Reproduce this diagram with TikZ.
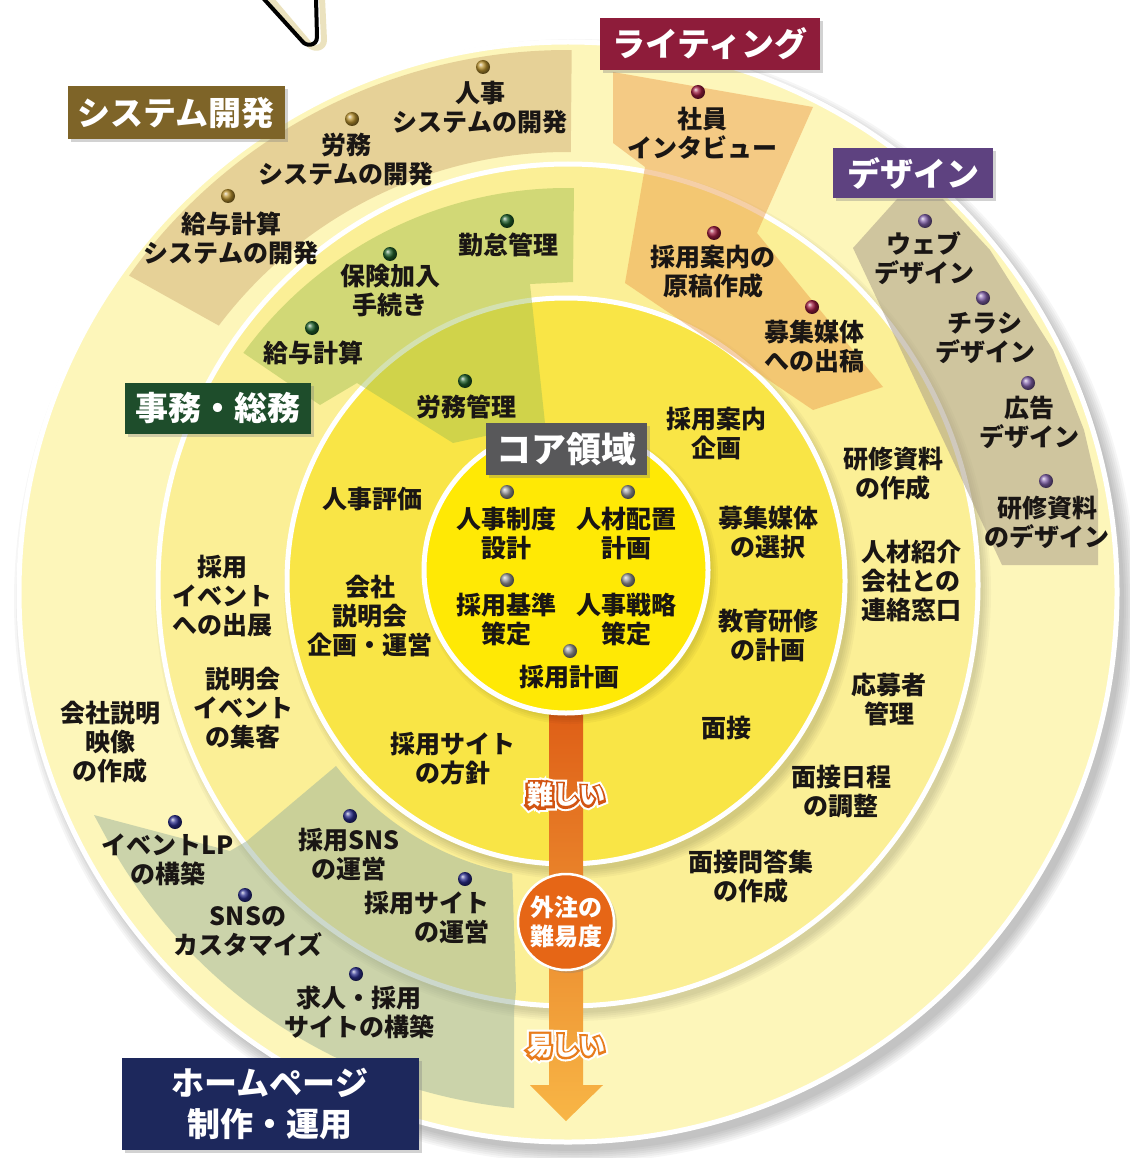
\documentclass[tikz,border=0pt]{standalone}
\usepackage{fontspec}
\newfontfamily\jp{Noto Sans CJK JP}
\newfontfamily\jpfatA{Noto Sans CJK JP}[FakeBold=22]
\newfontfamily\jpfatW{Noto Sans CJK JP}[FakeBold=38]
\usetikzlibrary{calc,shadows}
\definecolor{ink}{RGB}{26,22,20}
\definecolor{ringD}{RGB}{253,246,186}
\definecolor{ringC}{RGB}{251,239,150}
\definecolor{ringB}{RGB}{249,229,70}
\definecolor{coreY}{RGB}{255,233,5}
\definecolor{bandSys}{RGB}{212,180,124}
\definecolor{bandGr}{RGB}{160,190,80}
\definecolor{bandWr}{RGB}{236,160,80}
\definecolor{bandDs}{RGB}{170,158,135}
\definecolor{bandHp}{RGB}{155,178,155}
\definecolor{catSys}{RGB}{126,100,40}
\definecolor{catWr}{RGB}{142,28,58}
\definecolor{catDs}{RGB}{94,66,128}
\definecolor{catJm}{RGB}{30,77,43}
\definecolor{catCore}{RGB}{88,88,90}
\definecolor{catHp}{RGB}{29,40,92}
\definecolor{bGold}{RGB}{184,145,46}
\definecolor{bGreen}{RGB}{31,95,42}
\definecolor{bRed}{RGB}{158,27,63}
\definecolor{bPurple}{RGB}{128,96,168}
\definecolor{bNavy}{RGB}{43,46,140}
\definecolor{bGray}{RGB}{150,150,150}
\definecolor{arrTop}{RGB}{221,90,20}
\definecolor{arrMid}{RGB}{238,128,32}
\definecolor{arrBot}{RGB}{248,182,70}
\definecolor{circO}{RGB}{230,102,22}
\definecolor{badgeA}{RGB}{210,84,18}
\definecolor{badgeB}{RGB}{232,124,28}
\newcommand\myoutl[4]{%
  \node[badge,text=white,font=\jpfatW\fontsize{26}{30}\selectfont] at (#1) {#4};
  \node[badge,text=#2,font=\jpfatA\fontsize{26}{30}\selectfont] at (#1) {#4};
  \node[badge,text=white] (#3) at (#1) {#4};}
\begin{document}
\begin{tikzpicture}[x=1pt,y=-1pt,
  txt/.style={font=\jp\bfseries\fontsize{25}{29}\selectfont, text=ink, align=center, inner sep=0pt},
  cat/.style={font=\jp\bfseries\fontsize{33}{41}\selectfont, text=white, align=center, inner sep=0pt, fill=#1, drop shadow={shadow xshift=3pt, shadow yshift=-3pt, opacity=0.35}},
  bead/.style={circle, inner sep=0pt, minimum size=14pt, shading=ball, ball color=#1},
  ring/.style={draw=white, line width=5pt},
  badge/.style={font=\jp\bfseries\fontsize{26}{30}\selectfont, inner sep=0pt},
]
\useasboundingbox[fill=white] (0,0) rectangle (1129,1158);
\coordinate (O) at (567,588);

% pointer at top
\draw[color={rgb,255:red,235;green,226;blue,190}, line width=6pt, line cap=round, line join=round]
  (270,-2) -- (309,44) .. controls (313,50) and (324,49) .. (324,40) -- (322,-2);
\draw[black, line width=4pt, line cap=round, line join=round]
  (263,-2) -- (302,41) .. controls (306,47) and (317,46) .. (317,37) -- (316,-2);

% rings
\foreach \k [evaluate=\k as \ra using 563-2*\k, evaluate=\k as \rb using 564-2*\k] in {1,...,7}
  \fill[black,opacity=0.035] (575,601) ellipse [x radius=\ra, y radius=\rb];
\fill[ringD, ring] (568,592) ellipse [x radius=549, y radius=550];
\foreach \k [evaluate=\k as \ra using 420-2*\k, evaluate=\k as \rb using 431-2*\k] in {1,...,5}
  \fill[black,opacity=0.03] (573,592) ellipse [x radius=\ra, y radius=\rb];
\fill[ringC, ring] (568,585) ellipse [x radius=410, y radius=421];
\foreach \k [evaluate=\k as \ra using 289-2*\k, evaluate=\k as \rb using 293-2*\k] in {1,...,5}
  \fill[black,opacity=0.03] (571,588) ellipse [x radius=\ra, y radius=\rb];
\fill[ringB, ring] (566,581) ellipse [x radius=279, y radius=283];

% category bands
\fill[bandSys, opacity=0.55] ($(O)+(217:436)$) arc[start angle=217, end angle=270.5, radius=436]
  -- ($(O)+(270.5:538)$) arc[start angle=270.5, end angle=215.5, radius=538] -- cycle;
\fill[bandGr, opacity=0.45] ($(O)+(216:400)$) arc[start angle=216, end angle=271, radius=400]
  -- (573,282) -- (530,284) -- (545,423) -- (453,443) -- (357,383) -- (320,405) -- cycle;
\fill[bandWr, opacity=0.5] (613,72) -- (813,107) -- (757,233) -- (883,387) -- (813,410)
  -- (625,283) -- (645,167) -- (613,143) -- cycle;
\fill[bandDs, opacity=0.55] (897,199) -- (943,199) -- (990,250) -- (1053,350) -- (1084,430)
  -- (1098,490) -- (1098,565) -- (1002,565) -- (853,248) -- cycle;
\fill[bandHp, opacity=0.5] (94,815) -- (230,851) -- (247,841) -- (336,766)
  arc[start angle=141.6, end angle=100.5, x radius=293, y radius=297]
  -- (516,990) -- (514,1012) -- (514,1108)
  arc[start angle=95.6, end angle=151.5, radius=522] -- cycle;

% difficulty arrow
\shade[top color=arrTop, middle color=arrMid, bottom color=arrBot]
  (549,690) -- (583,690) -- (583,1085) -- (603,1085) -- (566,1121) -- (530,1085) -- (549,1085) -- cycle;

% core
\foreach \k [evaluate=\k as \ra using 150-2*\k, evaluate=\k as \rb using 151-2*\k] in {1,...,4}
  \fill[black,opacity=0.03] (570,575) ellipse [x radius=\ra, y radius=\rb];
\fill[coreY, ring] (566,570) ellipse [x radius=142, y radius=143];

% category labels
\node[cat=catSys, minimum width=217pt, minimum height=53pt] (csys) at (176,113) {システム開発};
\node[cat=catWr, minimum width=220pt, minimum height=52pt] (cwr) at (710,44) {ライティング};
\node[cat=catDs, minimum width=160pt, minimum height=50pt] (cds) at (913,173) {デザイン};
\node[cat=catJm, minimum width=186pt, minimum height=51pt] (cjm) at (218,408) {事務・総務};
\node[cat=catCore, minimum width=161pt, minimum height=52pt, font=\jp\bfseries\fontsize{35}{41}\selectfont] (ccore) at (566,449) {コア領域};
\node[cat=catHp, minimum width=297pt, minimum height=92pt] (chp) at (270,1104) {ホームページ\\制作・運用};

% arrow badges
\myoutl{566,795}{badgeA}{hard}{難しい}
\myoutl{566,1046}{badgeB}{easy}{易しい}
\node[circle, fill=circO, draw=white, line width=2.5pt, minimum size=96pt,
  drop shadow={shadow xshift=3pt, shadow yshift=-3pt, opacity=0.3}] (diff) at (566,922) {};
\node[txt, text=white, font=\jp\bfseries\fontsize{24}{29}\selectfont] (difft) at (diff) {外注の\\難易度};

% core items
\node[bead=bGray] (dc1) at (507,492) {};
\node[txt] (c1) at (506,533) {人事制度\\設計};
\node[bead=bGray] (dc2) at (628,492) {};
\node[txt] (c2) at (626,533) {人材配置\\計画};
\node[bead=bGray] (dc3) at (507,580) {};
\node[txt] (c3) at (506,620) {採用基準\\策定};
\node[bead=bGray] (dc4) at (628,580) {};
\node[txt] (c4) at (626,620) {人事戦略\\策定};
\node[bead=bGray] (dc5) at (570,651) {};
\node[txt] (c5) at (569,677) {採用計画};

% ring B items
\node[txt] (b1) at (372,499) {人事評価};
\node[txt] (b2) at (370,616) {会社\\説明会\\企画・運営};
\node[txt] (b3) at (453,759) {採用サイト\\の方針};
\node[txt] (b4) at (716,433) {採用案内\\企画};
\node[txt] (b5) at (768,533) {募集媒体\\の選択};
\node[txt] (b6) at (768,635) {教育研修\\の計画};
\node[txt] (b7) at (726,728) {面接};
\node[bead=bGreen] (db8) at (465,381) {};
\node[txt] (b8) at (466,407) {労務管理};

% ring C items
\node[bead=bGreen] (dm1) at (507,221) {};
\node[txt] (m1) at (508,245) {勤怠管理};
\node[bead=bGreen] (dm2) at (390,254) {};
\node[txt] (m2) at (390,291) {保険加入\\手続き};
\node[bead=bGreen] (dm3) at (312,328) {};
\node[txt] (m3) at (313,353) {給与計算};
\node[bead=bRed] (dm4) at (714,233) {};
\node[txt] (m4) at (713,272) {採用案内の\\原稿作成};
\node[bead=bRed] (dm5) at (812,307) {};
\node[txt] (m5) at (814,346) {募集媒体\\への出稿};
\node[txt] (m6) at (222,596) {採用\\イベント\\への出展};
\node[txt] (m7) at (243,708) {説明会\\イベント\\の集客};
\node[txt] (m8) at (893,474) {研修資料\\の作成};
\node[txt] (m9) at (911,581) {人材紹介\\会社との\\連絡窓口};
\node[txt] (m10) at (889,700) {応募者\\管理};
\node[txt] (m11) at (841,792) {面接日程\\の調整};
\node[txt] (m12) at (751,877) {面接問答集\\の作成};
\node[bead=bNavy] (dm13) at (350,816) {};
\node[txt] (m13) at (349,855) {採用SNS\\の運営};
\node[bead=bNavy] (dm14) at (465,879) {};
\node[txt, align=right, anchor=east] (m14) at (490,918) {採用サイト\\の運営};

% ring D items
\node[bead=bGold] (do1) at (483,67) {};
\node[txt] (o1) at (480,108) {人事\\システムの開発};
\node[bead=bGold] (do2) at (352,119) {};
\node[txt] (o2) at (346,160) {労務\\システムの開発};
\node[bead=bGold] (do3) at (228,196) {};
\node[txt] (o3) at (231,238) {給与計算\\システムの開発};
\node[bead=bRed] (do4) at (698,92) {};
\node[txt] (o4) at (702,133) {社員\\インタビュー};
\node[bead=bPurple] (do5) at (925,221) {};
\node[txt] (o5) at (924,258) {ウェブ\\デザイン};
\node[bead=bPurple] (do6) at (983,298) {};
\node[txt] (o6) at (985,338) {チラシ\\デザイン};
\node[bead=bPurple] (do7) at (1028,383) {};
\node[txt] (o7) at (1029,422) {広告\\デザイン};
\node[bead=bPurple] (do8) at (1046,481) {};
\node[txt] (o8) at (1047,522) {研修資料\\のデザイン};
\node[txt] (o9) at (110,742) {会社説明\\映像\\の作成};
\node[bead=bNavy] (do10) at (175,822) {};
\node[txt] (o10) at (168,860) {イベントLP\\の構築};
\node[bead=bNavy] (do11) at (245,895) {};
\node[txt] (o11) at (248,932) {SNSの\\カスタマイズ};
\node[bead=bNavy] (do12) at (356,974) {};
\node[txt] (o12) at (359,1012) {求人・採用\\サイトの構築};
\end{tikzpicture}
\end{document}
